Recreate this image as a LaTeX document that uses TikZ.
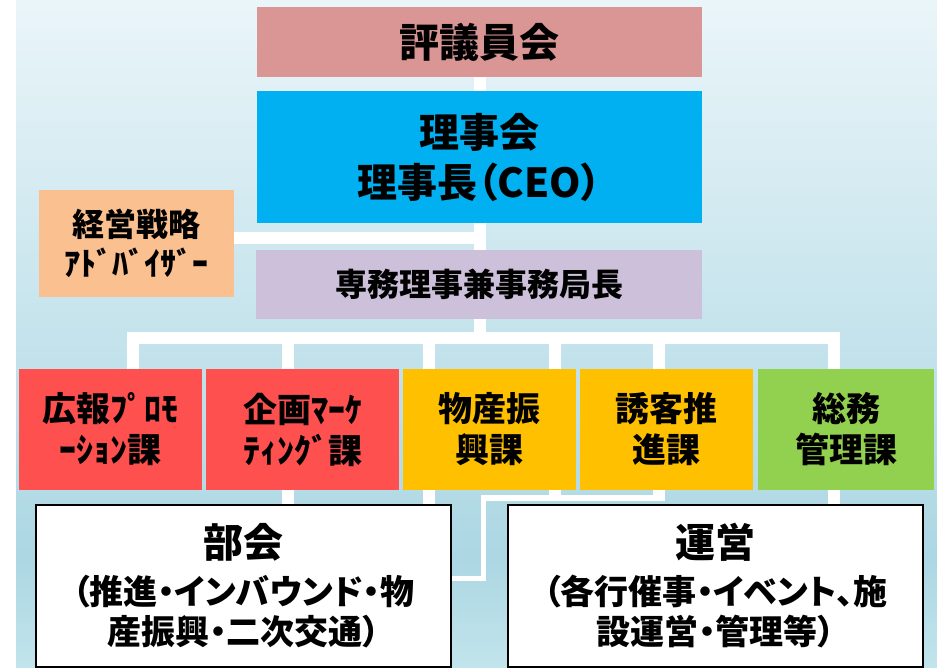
\documentclass[tikz,border=0pt]{standalone}
\usepackage{fontspec}
\newfontfamily\jp{Noto Sans CJK JP}[RawFeature=+palt]
\definecolor{bgtop}{HTML}{EAF5F9}
\definecolor{bgmid}{HTML}{ACD7E3}
\definecolor{bgbot}{HTML}{C2E4EC}
\definecolor{hyoc}{HTML}{DA9694}
\definecolor{rijc}{HTML}{00B0F0}
\definecolor{advc}{HTML}{FAC090}
\definecolor{senc}{HTML}{CCC0DA}
\definecolor{redc}{HTML}{FF5050}
\definecolor{orac}{HTML}{FFC000}
\definecolor{grec}{HTML}{92D050}
\pgfdeclarelayer{bglayer}
\pgfdeclarelayer{linelayer}
\pgfsetlayers{bglayer,linelayer,main}
\begin{document}
\begin{tikzpicture}[x=1pt,y=-1pt,
  conn/.style={draw=white,line width=12pt},
  thinconn/.style={draw=white,line width=5.5pt},
  box/.style={inner sep=0pt,align=center,font=\jp\bfseries\fontsize{34}{41}\selectfont},
  secbox/.style={box,minimum height=121pt},
  outbox/.style={box,draw=black,line width=1.5pt,fill=white,minimum width=415pt,minimum height=162pt,font=\jp\bfseries\fontsize{34}{40}\selectfont}]
\useasboundingbox (0,0) rectangle (937,668);
% boxes
\node[box,fill=hyoc,minimum width=445pt,minimum height=70pt,font=\jp\bfseries\fontsize{40}{48}\selectfont] (hyo) at (479.5,42) {評議員会};
\node[box,fill=rijc,minimum width=445pt,minimum height=132pt,font=\jp\bfseries\fontsize{40}{50}\selectfont] (rij) at (479.5,157) {理事会\\理事長（CEO）};
\node[box,fill=advc,minimum width=195pt,minimum height=107pt,font=\jp\bfseries\fontsize{32}{39}\selectfont] (adv) at (136.5,243.5) {経営戦略\\ｱﾄﾞﾊﾞｲｻﾞｰ};
\node[box,fill=senc,minimum width=446pt,minimum height=69pt,font=\jp\bfseries\fontsize{32}{39}\selectfont] (sen) at (479,284.5) {専務理事兼事務局長};
\node[secbox,fill=redc,minimum width=183pt] (kou) at (110.5,429.5) {広報ﾌﾟﾛﾓ\\ｰｼｮﾝ課};
\node[secbox,fill=redc,minimum width=193pt] (kik) at (302.5,429.5) {企画ﾏｰｹ\\ﾃｨﾝｸﾞ課};
\node[secbox,fill=orac,minimum width=173pt] (bus) at (489.5,429.5) {物産振\\興課};
\node[secbox,fill=orac,minimum width=173pt] (yuk) at (666.5,429.5) {誘客推\\進課};
\node[secbox,fill=grec,minimum width=176pt] (som) at (846,429.5) {総務\\管理課};
\node[outbox] (bukai) at (243.5,586) {{\fontsize{40}{48}\selectfont 部会}\\[7pt]（推進・インバウンド・物\\産振興・二次交通）};
\node[outbox] (unei) at (715.5,586) {{\fontsize{40}{48}\selectfont 運営}\\[7pt]（各行催事・イベント、施\\設運営・管理等）};
% background
\begin{pgfonlayer}{bglayer}
\fill[white] (0,0) rectangle (937,668);
\shade[top color=bgtop,bottom color=bgmid] (16,0) rectangle (937,560);
\shade[top color=bgmid,bottom color=bgbot] (16,559.5) rectangle (937,668);
\end{pgfonlayer}
% connectors
\coordinate (b1) at (133,337.5);
\coordinate (b2) at (288,337.5);
\coordinate (b3) at (429,337.5);
\coordinate (b4) at (555,337.5);
\coordinate (b5) at (658.5,337.5);
\coordinate (b6) at (834,337.5);
\coordinate (t1) at (658.5,498);
\coordinate (t2) at (483.5,498);
\coordinate (t3) at (483.5,578.5);
\begin{pgfonlayer}{linelayer}
\draw[conn] (hyo.south) -- (hyo.south |- b1);
\draw[conn] ([yshift=5pt]adv.east) -- ([yshift=5pt]adv.east -| hyo.south);
\draw[conn,line join=miter] (kou.north -| b1) -- (b1) -- (b6) -- (kou.north -| b6);
\draw[conn] (b2) -- (b2 |- kik.north);
\draw[conn] (b3) -- (b3 |- bus.north);
\draw[conn] (b4) -- (b4 |- bus.north);
\draw[conn] (b5) -- (b5 |- yuk.north);
\draw[conn] (kik.south -| b2) -- (bukai.north -| b2);
\draw[conn] (bus.south -| b3) -- (bukai.north -| b3);
\draw[conn] (som.south -| b6) -- (unei.north -| b6);
\draw[conn] (bus.south -| b4) -- ([yshift=-3pt]t2 -| b4);
\draw[conn] (yuk.south -| t1) -- ([yshift=-3pt]t1);
\draw[thinconn,line join=miter] (t1) -- (t2) -- (t3) -- (t3 -| bukai.east);
\end{pgfonlayer}
\end{tikzpicture}
\end{document}
